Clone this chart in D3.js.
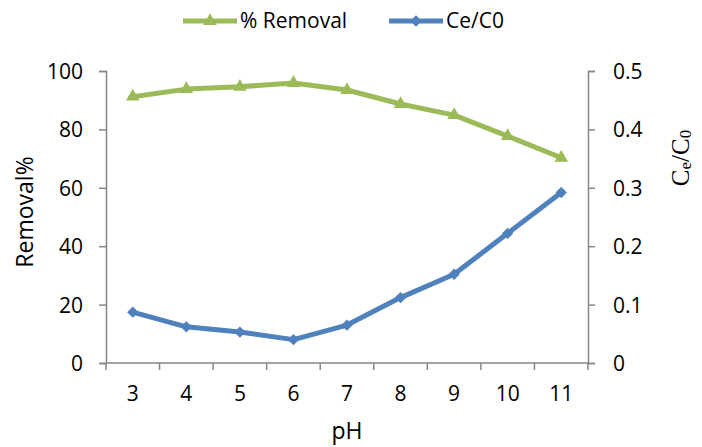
<!DOCTYPE html>
<html>
<head>
<meta charset="utf-8">
<script src="https://cdn.jsdelivr.net/npm/d3@7"></script>
<style>
  body { margin: 0; background: #fff; }
  text { font-family: "Open Sans", sans-serif; fill: #000; }
</style>
</head>
<body>
<div id="chart"></div>
<script>
const phValues = [3, 4, 5, 6, 7, 8, 9, 10, 11];
const removal = [91.2, 93.8, 94.6, 95.9, 93.5, 88.7, 84.9, 77.7, 70.3];
const ceC0 = [0.087, 0.062, 0.053, 0.040, 0.065, 0.112, 0.152, 0.222, 0.292];
const leftTicks = [0, 20, 40, 60, 80, 100];
const rightTicks = [0, 0.1, 0.2, 0.3, 0.4, 0.5];

const width = 702, height = 447;
const margin = { top: 71, right: 114, bottom: 84, left: 106 };
const innerW = width - margin.left - margin.right;
const innerH = height - margin.top - margin.bottom;

const green = '#9BBB59', blue = '#4F81BD', axisColor = '#868686';

const svg = d3.select('#chart').append('svg')
  .attr('width', width)
  .attr('height', height);

const g = svg.append('g')
  .attr('transform', `translate(${margin.left},${margin.top})`);

const x = d3.scaleBand()
  .domain(phValues)
  .range([0, innerW]);

const yLeft = d3.scaleLinear().domain([0, 100]).range([innerH, 0]);
const yRight = d3.scaleLinear().domain([0, 0.5]).range([innerH, 0]);

// x axis, ticks on category boundaries
const xAxis = g.append('g').attr('transform', `translate(0,${innerH})`);
xAxis.append('line')
  .attr('x1', 0).attr('x2', innerW)
  .attr('stroke', axisColor).attr('stroke-width', 1.5);
const bounds = phValues.map(d => x(d)).concat([innerW]);
xAxis.selectAll('.tk').data(bounds).enter().append('line')
  .attr('x1', d => d).attr('x2', d => d)
  .attr('y1', 0).attr('y2', 7)
  .attr('stroke', axisColor).attr('stroke-width', 1.5);
xAxis.selectAll('.lbl').data(phValues).enter().append('text')
  .attr('x', d => x(d) + x.bandwidth() / 2)
  .attr('y', 38)
  .attr('text-anchor', 'middle')
  .style('font-size', '21px')
  .text(d => d);

// left axis
const leftAxis = g.append('g')
  .call(d3.axisLeft(yLeft).tickValues(leftTicks).tickSize(7).tickPadding(16));
leftAxis.select('.domain').attr('stroke', axisColor).attr('stroke-width', 1.5);
leftAxis.selectAll('.tick line').attr('stroke', axisColor).attr('stroke-width', 1.5);
leftAxis.selectAll('.tick text')
  .style('font-size', '21px').style('font-family', '"Open Sans", sans-serif')
  .attr('fill', '#000').attr('dy', '0.36em');

// right axis
const rightAxis = g.append('g')
  .attr('transform', `translate(${innerW},0)`)
  .call(d3.axisRight(yRight).tickValues(rightTicks).tickSize(7).tickPadding(18)
    .tickFormat(d => d === 0 ? '0' : d3.format('.1f')(d)));
rightAxis.select('.domain').attr('stroke', axisColor).attr('stroke-width', 1.5);
rightAxis.selectAll('.tick line').attr('stroke', axisColor).attr('stroke-width', 1.5);
rightAxis.selectAll('.tick text')
  .style('font-size', '21px').style('font-family', '"Open Sans", sans-serif')
  .attr('fill', '#000').attr('dy', '0.36em');

const cx = d => x(d) + x.bandwidth() / 2;

// removal series
const lineLeft = d3.line().x((d, i) => cx(phValues[i])).y(d => yLeft(d));
g.append('path').datum(removal)
  .attr('d', lineLeft)
  .attr('fill', 'none').attr('stroke', green).attr('stroke-width', 5)
  .attr('stroke-linejoin', 'round');
g.selectAll('.tri').data(removal).enter().append('path')
  .attr('transform', (d, i) => `translate(${cx(phValues[i])},${yLeft(d)})`)
  .attr('d', d3.symbol(d3.symbolTriangle, 80))
  .attr('fill', green);

// Ce/C0 series
const lineRight = d3.line().x((d, i) => cx(phValues[i])).y(d => yRight(d));
g.append('path').datum(ceC0)
  .attr('d', lineRight)
  .attr('fill', 'none').attr('stroke', blue).attr('stroke-width', 5)
  .attr('stroke-linejoin', 'round');
g.selectAll('.dia').data(ceC0).enter().append('path')
  .attr('transform', (d, i) => `translate(${cx(phValues[i])},${yRight(d)}) rotate(45)`)
  .attr('d', d3.symbol(d3.symbolSquare, 64))
  .attr('fill', blue);

// axis titles
svg.append('text')
  .attr('transform', 'translate(33,212) rotate(-90)')
  .attr('text-anchor', 'middle')
  .style('font-size', '23px')
  .text('Removal%');

svg.append('text')
  .attr('x', 347).attr('y', 439)
  .attr('text-anchor', 'middle')
  .style('font-size', '23px')
  .text('pH');

const ceTitle = svg.append('text')
  .attr('transform', 'translate(689,158) rotate(-90)')
  .attr('text-anchor', 'middle')
  .style('font-family', '"Liberation Serif", serif')
  .style('font-size', '25px');
ceTitle.append('tspan').text('C');
ceTitle.append('tspan').attr('dy', 2).style('font-size', '17px').text('e');
ceTitle.append('tspan').attr('dy', -2).text('/C');
ceTitle.append('tspan').attr('dy', 2).style('font-size', '17px').text('0');

// legend
const legend = svg.append('g');
const items = [
  { label: '% Removal', color: green, x: 183, sym: 'tri' },
  { label: 'Ce/C0', color: blue, x: 389, sym: 'dia' }
];
items.forEach(it => {
  legend.append('line')
    .attr('x1', it.x).attr('x2', it.x + 54)
    .attr('y1', 21).attr('y2', 21)
    .attr('stroke', it.color).attr('stroke-width', 5);
  legend.append('path')
    .attr('transform', `translate(${it.x + 27},21)` + (it.sym === 'dia' ? ' rotate(45)' : ''))
    .attr('d', d3.symbol(it.sym === 'tri' ? d3.symbolTriangle : d3.symbolSquare, it.sym === 'tri' ? 80 : 64))
    .attr('fill', it.color);
  legend.append('text')
    .attr('x', it.x + 57).attr('y', 28)
    .style('font-size', '21px')
    .text(it.label);
});
</script>
</body>
</html>
